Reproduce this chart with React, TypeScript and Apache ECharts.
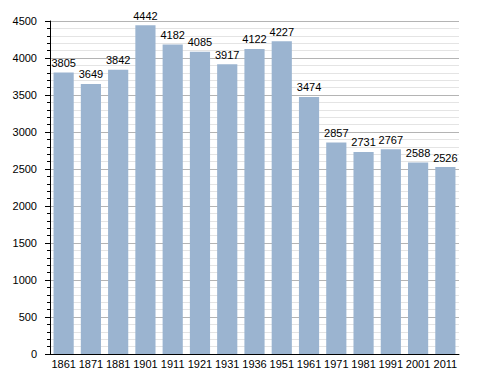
import React, { useEffect, useRef } from "react";
import * as echarts from "echarts";

const years = ["1861", "1871", "1881", "1901", "1911", "1921", "1931", "1936", "1951", "1961", "1971", "1981", "1991", "2001", "2011"];
const population = [3805, 3649, 3842, 4442, 4182, 4085, 3917, 4122, 4227, 3474, 2857, 2731, 2767, 2588, 2526];
const yMin = 0;
const yMax = 4500;
const yStep = 500;

const font = "Liberation Sans, Arial, sans-serif";

export default function App() {
  const ref = useRef<HTMLDivElement>(null);
  useEffect(() => {
    if (!ref.current) return;
    const chart = echarts.init(ref.current, null, { renderer: "svg" });
    chart.setOption({
      animation: false,
      backgroundColor: "#ffffff",
      grid: { left: 50, right: 29, top: 21, bottom: 19, containLabel: false },
      xAxis: {
        type: "category",
        data: years,
        axisLine: { show: true, lineStyle: { color: "#000", width: 1 } },
        axisTick: { show: false },
        axisLabel: { color: "#000", fontSize: 11, fontFamily: font, margin: 4, interval: 0 },
      },
      yAxis: {
        type: "value",
        min: yMin,
        max: yMax,
        interval: yStep,
        axisLine: { show: true, lineStyle: { color: "#000", width: 1 } },
        axisTick: { show: true, length: 5, lineStyle: { color: "#000" } },
        minorTick: { show: true, splitNumber: 5, length: 3, lineStyle: { color: "#000" } },
        axisLabel: { color: "#000", fontSize: 11, fontFamily: font, margin: 13, formatter: (v: number) => String(v) },
        splitLine: { show: true, lineStyle: { color: "#b4b4b4", width: 1 } },
        minorSplitLine: { show: true, lineStyle: { color: "#e4e4e4", width: 1 } },
      },
      series: [
        {
          type: "bar",
          data: population,
          barCategoryGap: "26%",
          itemStyle: { color: "#9bb4d0" },
          label: {
            show: true,
            position: "top",
            distance: 4,
            color: "#000",
            fontSize: 11,
            fontFamily: font,
          },
        },
      ],
    });
    return () => chart.dispose();
  }, []);
  return <div ref={ref} style={{ width: 488, height: 373, position: "absolute", left: 0, top: 0 }} />;
}
